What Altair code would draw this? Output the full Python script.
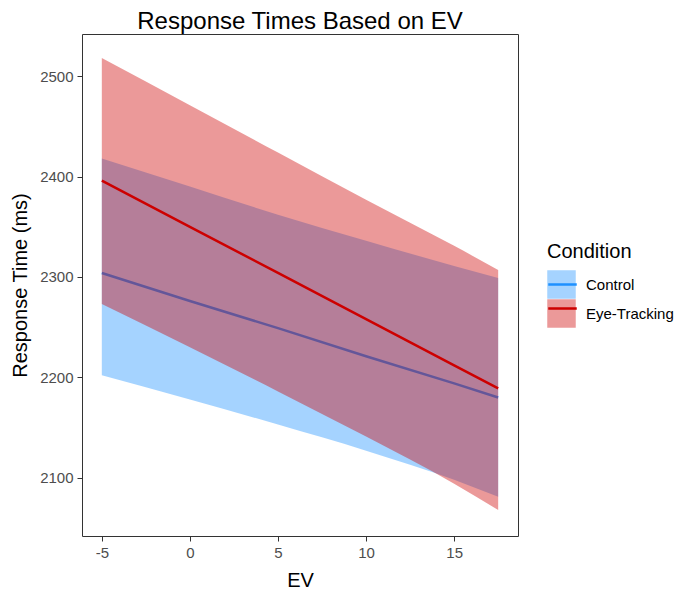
import altair as alt
import pandas as pd

# EV positions where the fitted lines / 95% bands were read
ev = [-5, 0, 5, 10, 15, 17.5]

# Control condition
control_fit = [2304, 2276, 2249, 2221, 2194, 2180]
control_upper = [2418, 2390, 2362, 2336, 2311, 2299]
control_lower = [2202, 2178, 2153, 2127, 2098, 2081]

# Eye-Tracking condition
eye_fit = [2396, 2350, 2304, 2258, 2212, 2189]
eye_upper = [2518, 2471, 2424, 2377, 2331, 2307]
eye_lower = [2273, 2230, 2186, 2141, 2094, 2068]

conditions = ["Control", "Eye-Tracking"]
colors = ["#1E90FF", "#CD0000"]

rows = []
for name, fit, up, lo in [
    ("Control", control_fit, control_upper, control_lower),
    ("Eye-Tracking", eye_fit, eye_upper, eye_lower),
]:
    for x, f, u, l in zip(ev, fit, up, lo):
        rows.append({"EV": x, "fit": f, "upper": u, "lower": l,
                     "Condition": name, "Condition2": name})
df = pd.DataFrame(rows)

FONT = "Liberation Sans"

x_enc = alt.X("EV:Q", title="EV",
              scale=alt.Scale(domain=[-6.125, 18.625], nice=False, zero=False),
              axis=alt.Axis(values=[-5, 0, 5, 10, 15], labelExpr="datum.value + ''"))
y_scale = alt.Scale(domain=[2042, 2542], nice=False, zero=False)
y_axis = alt.Axis(values=[2100, 2200, 2300, 2400, 2500], format="d")

leg_common = dict(orient="none", legendX=465, symbolSize=812, rowPadding=0,
                  padding=0, labelOffset=10, labelFontSize=15, labelFont=FONT)

fill_leg = alt.Legend(title="Condition", legendY=208, symbolType="square",
                      symbolOpacity=0.4, symbolStrokeColor="transparent",
                      symbolStrokeWidth=0, titleFontSize=20, titleFont=FONT,
                      titleFontWeight="normal", titlePadding=8,
                      titleColor="black", labelColor="black", **leg_common)
stroke_leg = alt.Legend(title=None, legendY=235, symbolType="stroke",
                        symbolStrokeWidth=2.5, labelExpr="''", **leg_common)

fill_enc = alt.Fill("Condition:N", scale=alt.Scale(range=colors), legend=fill_leg)
stroke_enc = alt.Stroke("Condition2:N", scale=alt.Scale(range=colors), legend=stroke_leg)

base = alt.Chart(df)


def band(name):
    return base.transform_filter(alt.datum.Condition == name).mark_area(
        opacity=0.4, interpolate="monotone").encode(
        x=x_enc,
        y=alt.Y("upper:Q", title="Response Time (ms)", scale=y_scale, axis=y_axis),
        y2="lower:Q",
        fill=fill_enc,
    )


def fitline(name):
    return base.transform_filter(alt.datum.Condition == name).mark_line(
        strokeWidth=2.5).encode(
        x=x_enc,
        y=alt.Y("fit:Q", title="Response Time (ms)", scale=y_scale, axis=y_axis),
        stroke=stroke_enc,
    )


chart = alt.layer(
    band("Control"), fitline("Control"), band("Eye-Tracking"), fitline("Eye-Tracking")
).properties(
    width=436, height=502,
    autosize=alt.AutoSizeParams(type="none"),
    padding={"left": 74, "top": 26, "right": 159, "bottom": 54},
    title=alt.Title("Response Times Based on EV", fontSize=24, font=FONT,
                    fontWeight="normal", color="black", anchor="middle", offset=0),
).configure_view(
    stroke="#333333", strokeWidth=1
).configure_axis(
    domain=False, grid=False, tickColor="#333333", tickSize=5, tickWidth=1,
    labelColor="#4d4d4d", labelFont=FONT, labelFontSize=15, labelPadding=4,
    titleFont=FONT, titleFontSize=20, titleFontWeight="normal", titleColor="black",
).configure_axisX(titlePadding=10).configure_axisY(titlePadding=9)

chart.save("out.html", embed_options={"renderer": "svg", "actions": False})
